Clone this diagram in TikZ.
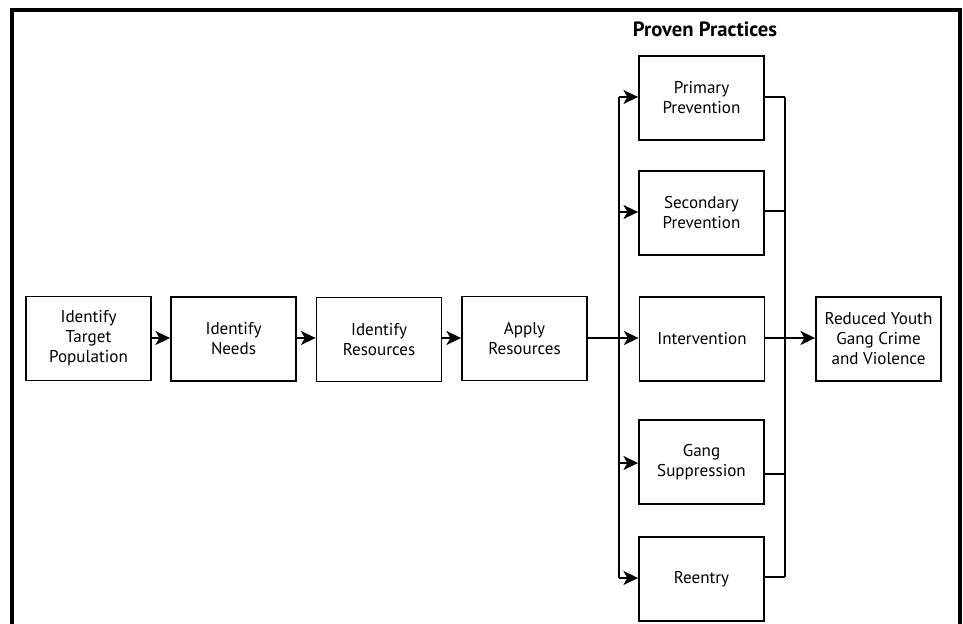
\documentclass[tikz,border=0pt]{standalone}
\usepackage{fontspec}
\setmainfont{PT Sans}
\usetikzlibrary{arrows.meta,calc}
\begin{document}
\begin{tikzpicture}[x=0.75pt,y=-0.75pt,
  box/.style={draw,line width=1.4pt,minimum width=93.75pt,minimum height=63pt,inner sep=0pt,align=center,font=\fontsize{12.8}{15}\selectfont},
  conn/.style={line width=1.1pt},
  arr/.style={line width=1.1pt,-{Stealth[length=11pt,width=10.5pt,inset=3pt]}},
  frame/.style={line width=2.4pt}]
\useasboundingbox (0,0) rectangle (963,624);
% frame
\draw[frame] (12,630) -- (12,10) -- (960,10) -- (960,630);
\node[font=\fontsize{15.5}{18}\selectfont\bfseries] (title) at (705,29) {Proven Practices};
% main chain
\node[box] (b1) at (88.5,338.5) {Identify\\Target\\Population};
\node[box] (b2) at (233.5,339) {Identify\\Needs};
\node[box] (b3) at (379,339.5) {Identify\\Resources};
\node[box] (b4) at (524.5,338.5) {Apply\\Resources};
% proven practices
\node[box] (p1) at (701.5,98) {Primary\\Prevention};
\node[box] (p2) at (701.5,213) {Secondary\\Prevention};
\node[box] (p3) at (702,339) {Intervention};
\node[box] (p4) at (701.5,462) {Gang\\Suppression};
\node[box] (p5) at (701.5,579) {Reentry};
% outcome
\node[box] (out) at (878.5,339) {Reduced Youth\\Gang Crime\\and Violence};
% bus coordinates
\coordinate (L1) at (619,97);
\coordinate (L2) at (619,212);
\coordinate (L3) at (619,338);
\coordinate (L4) at (619,463);
\coordinate (L5) at (619,578);
\coordinate (R1) at (785,97);
\coordinate (R2) at (785,211);
\coordinate (R3) at (785,338);
\coordinate (R4) at (785,474);
\coordinate (R5) at (785,577);
% chain arrows
\draw[arr] (b1.east |- 0,338) -- (b2.west |- 0,338);
\draw[arr] (b2.east |- 0,338) -- (b3.west |- 0,338);
\draw[arr] (b3.east |- 0,338) -- (b4.west |- 0,338);
\draw[conn] (b4.east |- L3) -- (L3);
% left bus
\draw[conn] (L1) -- (L5);
\draw[arr] (L1) -- (p1.west |- L1);
\draw[arr] (L2) -- (p2.west |- L2);
\draw[arr] (L3) -- (p3.west |- L3);
\draw[arr] (L4) -- (p4.west |- L4);
\draw[arr] (L5) -- (p5.west |- L5);
% right bus
\draw[conn] (R1) -- (R5);
\draw[conn] (p1.east |- R1) -- (R1);
\draw[conn] (p2.east |- R2) -- (R2);
\draw[conn] (p3.east |- R3) -- (R3);
\draw[conn] (p4.east |- R4) -- (R4);
\draw[conn] (p5.east |- R5) -- (R5);
\draw[arr] (R3) -- (out.west |- R3);
\end{tikzpicture}
\end{document}
